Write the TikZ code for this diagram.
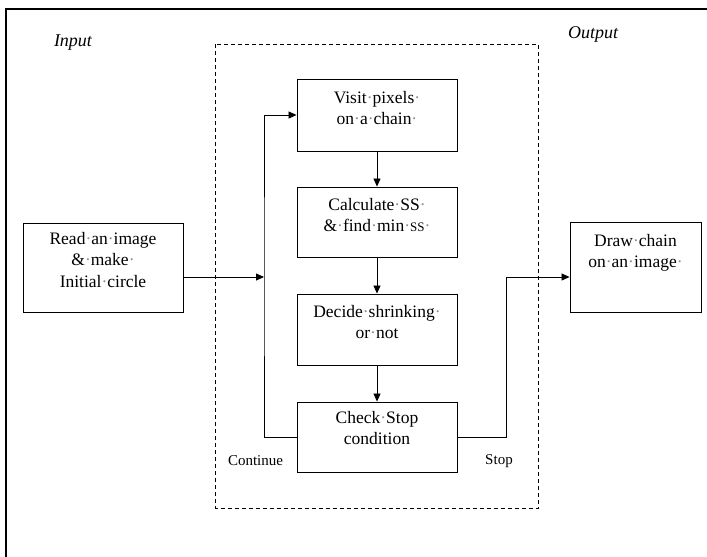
\documentclass[tikz,border=0pt]{standalone}
\usepackage{fontspec}
\setmainfont{Liberation Serif}
\usetikzlibrary{arrows.meta}
\newcommand\mdot{{\color{black!45}·}}
\tikzset{
  box/.style={draw=black, line width=0.9pt, rectangle, inner sep=0pt, fill=white},
  txt/.style={anchor=north, inner sep=0pt, align=center, font=\fontsize{17.5}{21.5}\selectfont},
  side/.style={inner sep=0pt, font=\fontsize{18}{21}\selectfont\itshape},
  small/.style={inner sep=0pt, font=\fontsize{15}{18}\selectfont},
  conn/.style={line width=0.8pt, -{Triangle[length=8pt,width=7pt]}},
  dashbox/.style={draw=black, line width=0.8pt, dash pattern=on 4pt off 3pt}
}
\begin{document}
\begin{tikzpicture}[x=1pt,y=-1pt]
\useasboundingbox (0,0) rectangle (707,557);
\fill[white] (0,0) rectangle (707,557);
% outer frame (partly cut off)
\draw[line width=1.4pt] (6,560) -- (6,9) -- (710,9);
% dashed group
\draw[dashbox] (215.5,44) rectangle (538,508);
% side labels
\node[side] (inlbl) at (73,43) {Input};
\node[side] (outlbl) at (593,34) {Output};
% boxes
\node[box, minimum width=160pt, minimum height=72pt] (visit) at (377,115) {};
\node[box, minimum width=160pt, minimum height=70pt] (calc) at (377,222) {};
\node[box, minimum width=160pt, minimum height=71pt] (decide) at (377,329.5) {};
\node[box, minimum width=160pt, minimum height=70pt] (check) at (377,437) {};
\node[box, minimum width=160pt, minimum height=89pt] (read) at (103,267.5) {};
\node[box, minimum width=131pt, minimum height=90pt] (drawc) at (635.5,267) {};
% texts
\node[txt] (visitT) at (377,91) {Visit\mdot pixels\mdot\\on\mdot a\mdot chain\mdot};
\node[txt] (calcT) at (377,198) {Calculate\mdot SS\mdot\\\&\mdot find\mdot min\mdot{\fontsize{13}{15}\selectfont SS}\mdot};
\node[txt] (decideT) at (377,305) {Decide\mdot shrinking\mdot\\or\mdot not};
\node[txt] (checkT) at (377,411) {Check\mdot Stop\\condition};
\node[txt] (readT) at (103,232) {Read\mdot an\mdot image\\\&\mdot make\mdot\\Initial\mdot circle};
\node[txt] (drawT) at (635.5,234) {Draw\mdot chain\\on\mdot an\mdot image\mdot};
% labels
\node[small] (cont) at (255.5,461) {Continue};
\node[small] (stop) at (499,461) {Stop};
% connectors
\coordinate (join) at (264,277);
\coordinate (turn) at (506,277);
\draw[conn] (visit) -- (calc);
\draw[conn] (calc) -- (decide);
\draw[conn] (decide) -- (check);
\draw[conn] (read.east |- join) -- (join);
\draw[conn] (check.west) -| (join) |- (visit.west);
\draw[conn] (check.east) -| (turn) -- (drawc.west |- turn);
\end{tikzpicture}
\end{document}
